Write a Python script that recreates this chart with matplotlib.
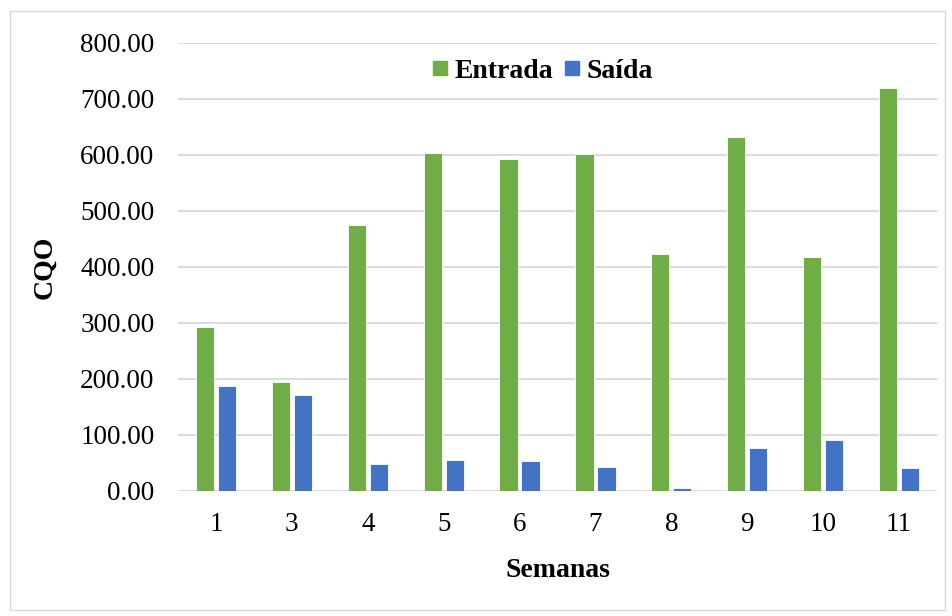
import numpy as np
import matplotlib.pyplot as plt
from matplotlib.patches import Rectangle
from matplotlib.lines import Line2D

semanas = ['1', '3', '4', '5', '6', '7', '8', '9', '10', '11']
entrada = [293, 194, 475, 603, 592, 602, 424, 632, 417, 719]
saida = [188, 172, 48, 55, 53, 42, 6, 76, 91, 41]

verde = '#70AD47'
azul = '#4472C4'

plt.rcParams['font.family'] = 'Liberation Serif'

fig = plt.figure(figsize=(9.52, 6.16), dpi=100)
ax = fig.add_axes([178/952, 1 - 491/616, (937-178)/952, (491-43)/616])

x = np.arange(len(semanas))
w = 0.24
ax.bar(x - 0.145, entrada, w, color=verde, edgecolor='white', linewidth=0.6, zorder=3)
ax.bar(x + 0.145, saida, w, color=azul, edgecolor='white', linewidth=0.6, zorder=3)

ax.set_xlim(-0.5, len(semanas) - 0.5)
ax.set_ylim(0, 800)
ax.set_yticks(np.arange(0, 801, 100))
ax.set_yticklabels(['%.2f' % v for v in np.arange(0, 801, 100)], fontsize=19.5)
ax.set_xticks(x)
ax.set_xticklabels(semanas, fontsize=19.5)
ax.tick_params(axis='both', length=0)
ax.tick_params(axis='y', pad=17)
ax.tick_params(axis='x', pad=15)
ax.grid(axis='y', color='#D9D9D9', linewidth=1.3, zorder=0)
for s in ax.spines.values():
    s.set_visible(False)

ax.set_ylabel('CQO', fontsize=20, fontweight='bold', labelpad=16)
ax.set_xlabel('Semanas', fontsize=20, fontweight='bold', labelpad=15)

handles = [Line2D([], [], marker='s', ls='none', ms=10, color=verde),
           Line2D([], [], marker='s', ls='none', ms=10, color=azul)]
ax.legend(handles, ['Entrada', 'Saída'], loc='center', bbox_to_anchor=(0.478, 0.937),
          ncol=2, frameon=False, handlelength=0.8, handletextpad=0.1,
          columnspacing=0.3, prop={'weight': 'bold', 'size': 20})

fig.patches.append(Rectangle((10/952, 1 - 610/616), 935/952, 599/616,
                             transform=fig.transFigure, fill=False,
                             edgecolor='#D9D9D9', linewidth=1))

fig.savefig('out.png', dpi=100)
